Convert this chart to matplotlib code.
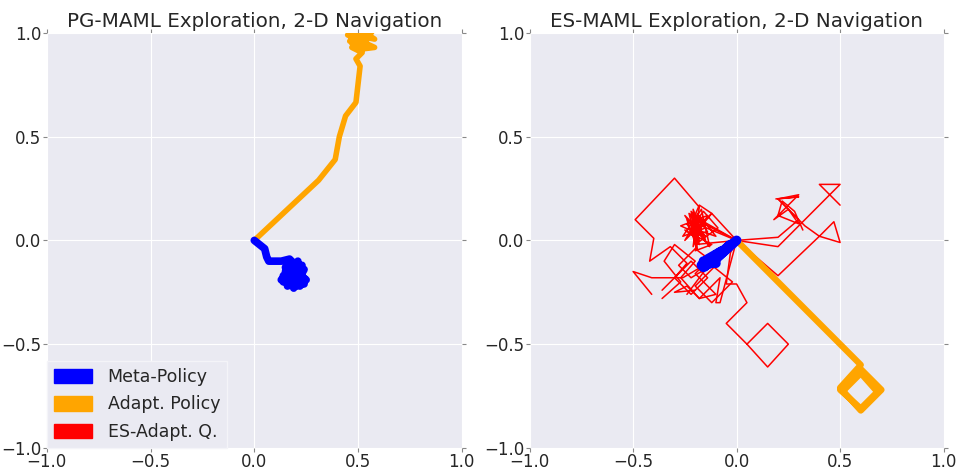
import numpy as np
import matplotlib
matplotlib.use('Agg')
import matplotlib.pyplot as plt
from matplotlib.patches import Patch

#trajectories (x, y)
pg_meta = [(0,0),(0.05,-0.04),(0.06,-0.08),(0.07,-0.10),(0.13,-0.10),(0.17,-0.09),
           (0.20,-0.12),(0.15,-0.15),(0.23,-0.17),(0.17,-0.21),(0.22,-0.22),(0.14,-0.17),
           (0.24,-0.14),(0.19,-0.23),(0.16,-0.12),(0.25,-0.19),(0.18,-0.16),(0.21,-0.10),
           (0.13,-0.19),(0.20,-0.20),(0.16,-0.22),(0.23,-0.12),(0.15,-0.13),(0.24,-0.21),
           (0.19,-0.11),(0.14,-0.20),(0.22,-0.15)]
pg_adapt = [(0,0),(0.31,0.29),(0.39,0.39),(0.41,0.50),(0.44,0.60),(0.49,0.665),
            (0.51,0.84),(0.49,0.875),(0.52,0.905),(0.47,0.93),(0.56,0.98),(0.50,1.01),
            (0.46,0.96),(0.55,0.93),(0.52,1.01),(0.58,0.97),(0.48,0.99),(0.53,0.95),
            (0.57,1.01),(0.47,0.95),(0.50,0.92),(0.58,0.93),(0.45,0.99),(0.55,1.0)]

es_meta = [(0,0),(-0.08,-0.07),(-0.16,-0.13),(-0.10,-0.08),(-0.03,-0.02),(-0.12,-0.11),
           (-0.17,-0.12),(-0.07,-0.05),(-0.14,-0.09),(-0.10,-0.11),(-0.16,-0.10)]
es_adapt = [(0,0),(0.60,-0.60),(0.50,-0.71),(0.60,-0.82),(0.70,-0.72),(0.60,-0.62),
            (0.50,-0.72),(0.60,-0.81),(0.68,-0.73),(0.60,-0.64),(0.52,-0.72)]
es_queries = [
    [(0,0),(-0.12,0.13),(-0.18,0.17),(-0.22,0.08),(-0.15,0.02),(-0.25,0.12),(-0.20,0.04),
     (-0.18,0.16),(-0.30,0.30),(-0.49,0.10),(-0.40,0.01),(-0.42,-0.10),(-0.32,-0.03),
     (-0.24,-0.11),(-0.30,-0.18),(-0.22,-0.26),(-0.14,-0.18),(-0.22,-0.10),(-0.29,-0.17),
     (-0.36,-0.24)],
    [(0,0),(-0.14,-0.11),(-0.26,-0.18),(-0.41,-0.18),(-0.50,-0.15),(-0.41,-0.26)],
    [(0,0),(-0.03,-0.06),(-0.05,-0.21),(0.0,-0.21),(0.05,-0.30),(-0.05,-0.40),(0.05,-0.50),
     (0.15,-0.40),(0.25,-0.50),(0.15,-0.61),(0.05,-0.50)],
    [(0,0),(0.20,-0.17),(0.40,0.02),(0.47,0.09),(0.50,-0.01),(0.40,0.02),(0.33,0.07),
     (0.20,0.20),(0.30,0.21),(0.19,0.20)],
    [(0,0),(0.20,-0.03),(0.50,0.27),(0.40,0.27),(0.50,0.17)],
    [(0,0),(0.20,0.015),(0.30,0.10),(0.20,0.20),(0.30,0.22),(0.18,0.10),(0.25,0.15),
     (0.30,0.08),(0.20,0.12),(0.22,0.19),(0.28,0.14),(0.32,0.05)],
    [(0,0),(-0.20,0.10),(-0.15,0.0),(-0.22,0.12),(-0.18,-0.02),(-0.24,0.08),(-0.16,0.10),
     (-0.21,-0.03),(-0.19,0.13),(-0.14,0.04),(-0.23,0.03),(-0.17,0.11),(-0.20,-0.05),
     (-0.12,-0.02),(-0.25,0.05),(-0.18,0.0),(-0.22,0.14),(-0.15,0.06),(-0.26,0.02),
     (-0.17,0.15),(-0.13,-0.03),(-0.24,0.10),(-0.19,-0.04),(-0.21,0.15),(-0.16,0.02),
     (-0.27,0.07),(-0.14,0.12),(-0.20,0.01),(-0.23,0.13),(0,0)],
    [(0,0),(-0.17,0.07),(-0.12,0.13),(-0.25,0.0),(-0.18,0.12),(-0.10,0.02),(-0.22,0.06),
     (-0.16,0.14),(-0.09,0.06),(-0.20,-0.02),(0,0)],
    [(0,0),(-0.12,-0.08),(-0.20,-0.16),(-0.10,-0.26),(-0.18,-0.28),(-0.27,-0.18),
     (-0.20,-0.10),(-0.30,-0.02),(-0.35,-0.10),(-0.27,-0.20),(-0.36,-0.28)],
    [(0,0),(-0.08,-0.30),(-0.10,-0.30),(-0.08,-0.18),(-0.18,-0.28),(-0.24,-0.22),
     (-0.30,-0.25),(-0.20,-0.24)],
    [(0,0),(-0.10,-0.12),(-0.20,-0.22),(-0.12,-0.30),(-0.02,-0.20),(-0.12,-0.12),
     (-0.22,-0.18),(-0.28,-0.12),(-0.20,-0.04),(-0.12,-0.10),(-0.24,-0.26)],
]

ticks = [-1.0, -0.5, 0.0, 0.5, 1.0]
bg = '#EAEAF2'

plt.rcParams['font.family'] = 'DejaVu Sans'
fig = plt.figure(figsize=(9.56, 4.70), dpi=100)
ax1 = fig.add_axes([0.049, 0.047, 0.434, 0.883])
ax2 = fig.add_axes([0.554, 0.047, 0.433, 0.883])

def style(ax, title):
    ax.set_facecolor(bg)
    for s in ax.spines.values():
        s.set_visible(False)
    ax.set_xlim(-1, 1)
    ax.set_ylim(-1, 1)
    ax.set_xticks(ticks)
    ax.set_yticks(ticks)
    ax.grid(True, color='white', linewidth=0.8)
    ax.set_axisbelow(True)
    ax.tick_params(direction='out', length=3, width=0.8, color='#888888',
                   labelsize=12, pad=1, top=True, right=True, labelcolor='#262626')
    ax.set_title(title, fontsize=14.3, color='#262626', pad=4)

def draw(ax, pts, **kw):
    pts = np.array(pts)
    ax.plot(pts[:, 0], pts[:, 1], solid_capstyle='round', solid_joinstyle='round', **kw)

style(ax1, 'PG-MAML Exploration, 2-D Navigation')
draw(ax1, pg_adapt, color='orange', lw=4)
draw(ax1, pg_meta, color='blue', lw=5.5)

style(ax2, 'ES-MAML Exploration, 2-D Navigation')
for q in es_queries:
    draw(ax2, q, color='red', lw=1.1)
draw(ax2, es_adapt, color='orange', lw=4.5)
draw(ax2, es_meta, color='blue', lw=7)

handles = [Patch(color='blue', label='Meta-Policy'),
           Patch(color='orange', label='Adapt. Policy'),
           Patch(color='red', label='ES-Adapt. Q.')]
leg = ax1.legend(handles=handles, loc='lower left', fontsize=12.5, borderaxespad=0,
                 handlelength=2.2, handleheight=0.9, handletextpad=0.9,
                 labelspacing=0.55, facecolor=bg, edgecolor='#f4f4f8',
                 framealpha=1, fancybox=False)
for t in leg.get_texts():
    t.set_color('#262626')

plt.savefig('out.png', dpi=100)
